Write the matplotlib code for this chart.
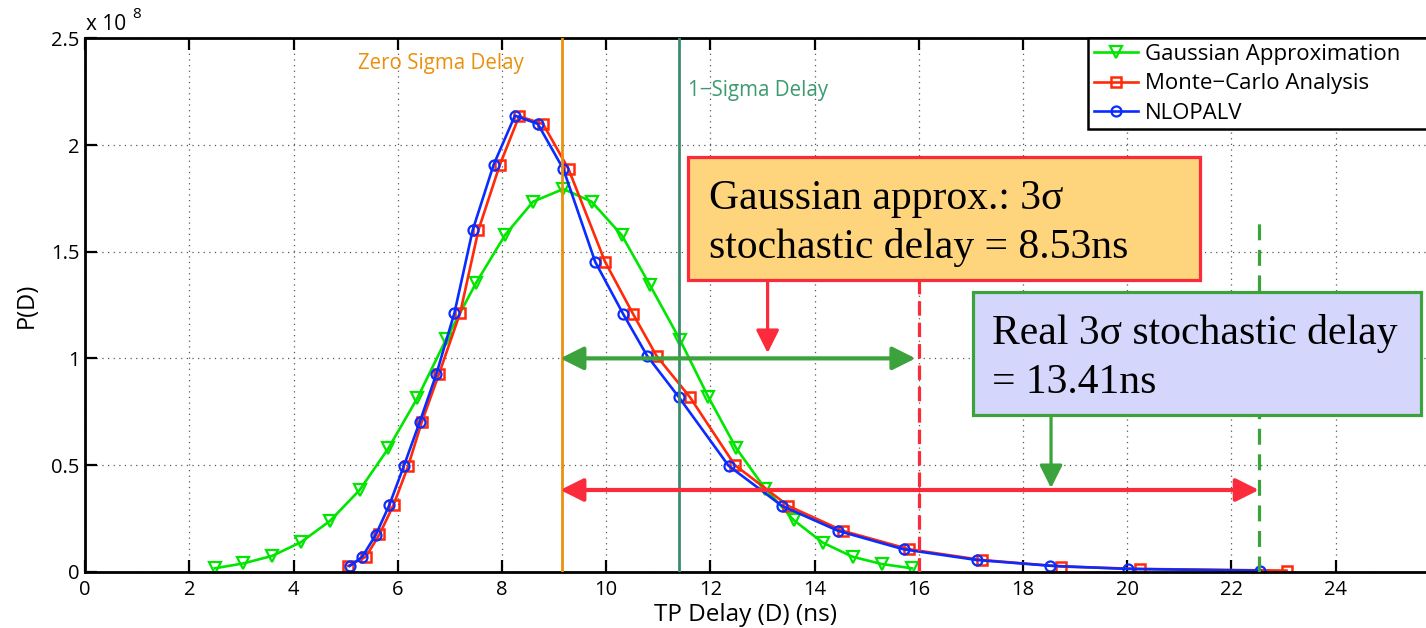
import matplotlib
matplotlib.use("Agg")
import matplotlib.pyplot as plt
from matplotlib.patches import Rectangle

# P(D) values are in units of 1e8
x_gauss = [2.49, 3.04, 3.59, 4.14, 4.70, 5.27, 5.82, 6.38, 6.93, 7.50, 8.06, 8.60, 9.18,
           9.72, 10.30, 10.84, 11.42, 11.96, 12.50, 13.05, 13.60, 14.16, 14.73, 15.29, 15.87]
y_gauss = [0.016, 0.039, 0.074, 0.138, 0.238, 0.383, 0.578, 0.815, 1.090, 1.352, 1.578, 1.735, 1.794,
           1.735, 1.578, 1.344, 1.086, 0.820, 0.578, 0.390, 0.242, 0.136, 0.070, 0.036, 0.016]

x_mc = [5.05, 5.39, 5.65, 5.92, 6.20, 6.46, 6.79, 7.20, 7.55, 7.96, 8.33, 8.79, 9.28,
        9.98, 10.52, 10.97, 11.61, 12.47, 13.50, 14.55, 15.82, 17.21, 18.74, 20.25, 23.06]
y_mc = [0.027, 0.070, 0.175, 0.313, 0.495, 0.700, 0.925, 1.214, 1.602, 1.907, 2.135, 2.099, 1.887,
        1.453, 1.207, 1.011, 0.818, 0.500, 0.308, 0.191, 0.105, 0.055, 0.024, 0.013, 0.005]

x_nl = [5.08, 5.32, 5.58, 5.84, 6.12, 6.42, 6.74, 7.09, 7.44, 7.84, 8.25, 8.69, 9.18,
        9.79, 10.33, 10.79, 11.40, 12.35, 13.38, 14.46, 15.71, 17.11, 18.52, 20.01, 22.56]
y_nl = [0.027, 0.070, 0.173, 0.313, 0.497, 0.700, 0.925, 1.214, 1.602, 1.907, 2.138, 2.099, 1.887,
        1.453, 1.207, 1.011, 0.817, 0.497, 0.308, 0.191, 0.105, 0.055, 0.028, 0.013, 0.005]

series_names = ["Gaussian Approximation", "Monte\u2212Carlo Analysis", "NLOPALV"]

zero_sigma = 9.16
one_sigma = 11.39
gauss_3sigma = 16.0
real_3sigma = 22.53

x_ticks = [0, 2, 4, 6, 8, 10, 12, 14, 16, 18, 20, 22, 24]
y_ticks = [0, 0.5, 1, 1.5, 2, 2.5]
y_ticklabels = ["0", "0.5", "1", "1.5", "2", "2.5"]

SANS = ["Open Sans", "DejaVu Sans"]
SERIF = ["Liberation Serif", "DejaVu Serif"]
plt.rcParams["font.family"] = SANS

RED_A = "#fb2b3c"
GREEN_A = "#3ca23c"

fig = plt.figure(figsize=(14.26, 6.28), dpi=100)
ax = fig.add_axes([85.1 / 1426, 1 - 571.7 / 628, 26 * 52.1 / 1426, 533.3 / 628])

ax.plot(x_gauss, y_gauss, color="#00e600", lw=1.9, marker="v", ms=8.5, mfc="none", mew=1.6,
        label=series_names[0])
ax.plot(x_mc, y_mc, color="#ff2a0a", lw=1.9, marker="s", ms=6.5, mfc="none", mew=1.8,
        label=series_names[1])
ax.plot(x_nl, y_nl, color="#0a2cff", lw=1.9, marker="o", ms=7.2, mfc="none", mew=1.6,
        label=series_names[2])

ax.set_xlim(0, 26)
ax.set_ylim(0, 2.5)
ax.set_xticks(x_ticks)
ax.set_yticks(y_ticks)
ax.set_yticklabels(y_ticklabels)
ax.tick_params(direction="in", top=True, right=True, length=8.5, width=1.6, labelsize=14.5)
ax.tick_params(axis="x", pad=6)
ax.tick_params(axis="y", pad=4)
for s in ax.spines.values():
    s.set_linewidth(2)
ax.grid(True, linestyle=(0, (1, 3.5)), color="0.35", lw=0.9)
ax.set_axisbelow(True)

ax.set_xlabel("TP Delay (D) (ns)", fontsize=17.5)
ax.xaxis.set_label_coords((745 - 85.1) / (26 * 52.1), -0.058)
ax.set_ylabel("P(D)", fontsize=17)
ax.yaxis.set_label_coords(-0.034, 0.5)

fig.text(86 / 1426, 1 - 25 / 628, "x 10", fontsize=15, va="center", ha="left")
fig.text(132 / 1426, 1 - 14 / 628, "8", fontsize=11, va="center", ha="left")

# delay markers
ax.axvline(zero_sigma, color="#ea900c", lw=2, zorder=4)
ax.axvline(one_sigma, color="#3c8c6c", lw=2, zorder=4)
ax.text(6.82, 2.38, "Zero Sigma Delay", color="#ea900c", fontsize=14.8, ha="center", va="center")
ax.text(11.57, 2.258, "1\u2212Sigma Delay", color="#3c9a70", fontsize=14.8, ha="left", va="center")

ax.plot([gauss_3sigma, gauss_3sigma], [0, 1.367], color=RED_A, lw=2.3, dashes=(4.5, 2.2), zorder=5)
ax.plot([real_3sigma, real_3sigma], [0, 1.664], color=GREEN_A, lw=2.3, dashes=(5, 3), zorder=5)

arw = "<|-|>,head_length=0.7,head_width=0.35"
ax.annotate("", xy=(zero_sigma - 0.04, 1.0), xytext=(gauss_3sigma - 0.06, 1.0),
            arrowprops=dict(arrowstyle=arw, color=GREEN_A, lw=3, shrinkA=0, shrinkB=0,
                            mutation_scale=20), zorder=6)
ax.annotate("", xy=(zero_sigma - 0.04, 0.383), xytext=(real_3sigma, 0.383),
            arrowprops=dict(arrowstyle=arw, color=RED_A, lw=3, shrinkA=0, shrinkB=0,
                            mutation_scale=20), zorder=6)
ax.annotate("", xy=(13.10, 1.025), xytext=(13.10, 1.367),
            arrowprops=dict(arrowstyle="-|>,head_length=0.7,head_width=0.35", color=RED_A, lw=2.3,
                            shrinkA=0, shrinkB=0, mutation_scale=20), zorder=6)
ax.annotate("", xy=(18.54, 0.392), xytext=(18.54, 0.735),
            arrowprops=dict(arrowstyle="-|>,head_length=0.7,head_width=0.35", color=GREEN_A, lw=2.3,
                            shrinkA=0, shrinkB=0, mutation_scale=20), zorder=6)

# text boxes
ax.add_patch(Rectangle((11.57, 1.367), 21.40 - 11.57, 1.944 - 1.367, facecolor="#fed47c",
                       edgecolor=RED_A, lw=2.3, zorder=7))
ax.text(11.97, 1.70, "Gaussian approx.: 3\u03c3", family=SERIF, fontsize=30, va="baseline", zorder=8)
ax.text(11.97, 1.47, "stochastic delay = 8.53ns", family=SERIF, fontsize=30, va="baseline", zorder=8)

ax.add_patch(Rectangle((17.04, 0.735), 25.65 - 17.04, 1.311 - 0.735, facecolor="#d5d6fb",
                       edgecolor=GREEN_A, lw=2.3, zorder=7))
ax.text(17.40, 1.068, "Real 3\u03c3 stochastic delay", family=SERIF, fontsize=30, va="baseline", zorder=8)
ax.text(17.40, 0.838, "= 13.41ns", family=SERIF, fontsize=30, va="baseline", zorder=8)

leg = ax.legend(loc="upper left", bbox_to_anchor=(0.7404, 0.5, 0.30, 0.5), mode="expand",
                borderaxespad=0, numpoints=1, fontsize=16, handlelength=2.0, handletextpad=0.3,
                labelspacing=0.38, borderpad=0.25, fancybox=False, framealpha=1,
                edgecolor="black")
leg.get_frame().set_linewidth(1.8)
leg.set_zorder(10)

fig.savefig("out.png", dpi=100)
